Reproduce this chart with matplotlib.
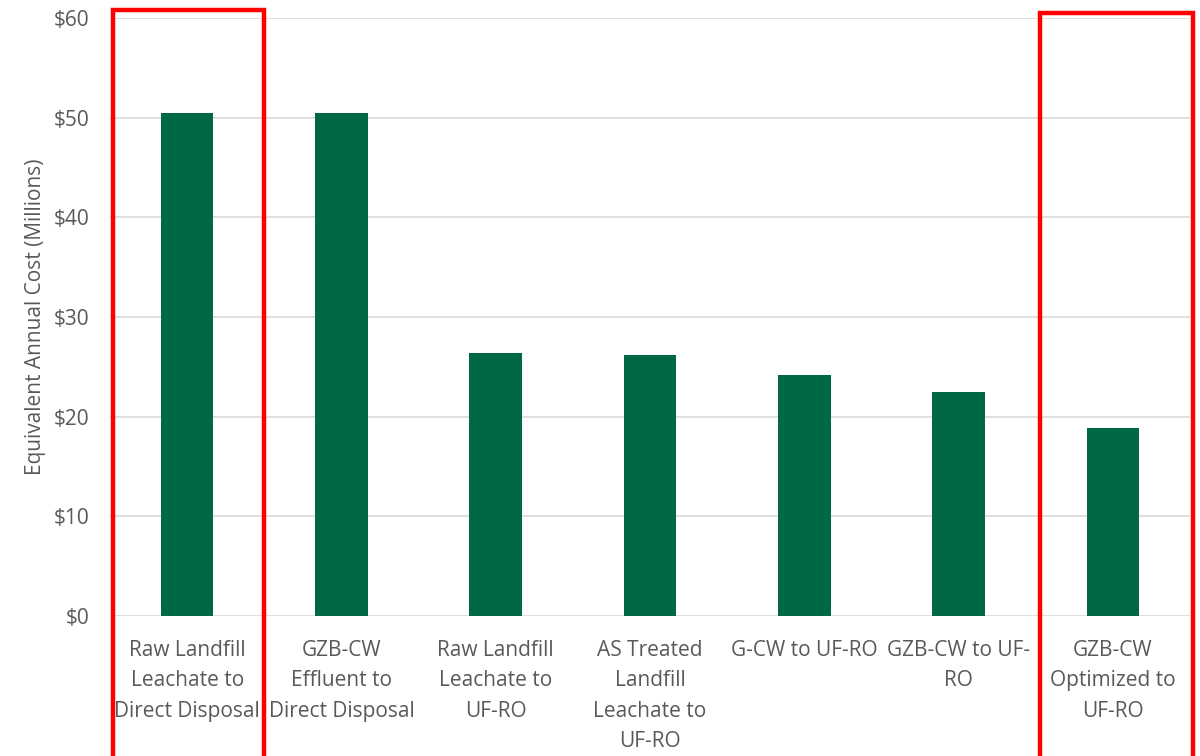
import matplotlib
matplotlib.use("Agg")
import matplotlib.pyplot as plt
from matplotlib.patches import Rectangle
from matplotlib.ticker import FuncFormatter

categories = [
    "Raw Landfill\nLeachate to\nDirect Disposal",
    "GZB-CW\nEffluent to\nDirect Disposal",
    "Raw Landfill\nLeachate to\nUF-RO",
    "AS Treated\nLandfill\nLeachate to\nUF-RO",
    "G-CW to UF-RO",
    "GZB-CW to UF-\nRO",
    "GZB-CW\nOptimized to\nUF-RO",
]
annual_cost = [50.5, 50.5, 26.4, 26.2, 24.2, 22.5, 18.9]
y_ticks = [0, 10, 20, 30, 40, 50, 60]

plt.rcParams["font.family"] = ["Open Sans", "DejaVu Sans"]
text_color = "#595959"
bar_color = "#006747"

fig = plt.figure(figsize=(12, 7.56), dpi=100)
ax = fig.add_axes([110 / 1200, 140 / 756, 1080 / 1200, 598 / 756])

x = list(range(len(categories)))
ax.bar(x, annual_cost, width=0.34, color=bar_color, zorder=3)

ax.set_xlim(-0.5, len(categories) - 0.5)
ax.set_ylim(0, 60)
ax.set_yticks(y_ticks)
ax.yaxis.set_major_formatter(FuncFormatter(lambda v, p: f"${v:.0f}"))
ax.grid(axis="y", color="#d9d9d9", linewidth=1.2, zorder=0)
ax.set_xticks(x)
ax.set_xticklabels(categories, fontsize=15, color=text_color, linespacing=1.6)
ax.tick_params(axis="both", length=0, colors=text_color, labelsize=15)
ax.tick_params(axis="x", pad=17)
ax.tick_params(axis="y", pad=15)
for s in ax.spines.values():
    s.set_visible(False)
ax.set_ylabel("Equivalent Annual Cost (Millions)", fontsize=15, color=text_color, labelpad=5)

# highlight boxes around the first and last scenario
for (x0, x1, top) in [(113, 264, 10), (1040, 1193, 13)]:
    fig.patches.append(Rectangle((x0 / 1200, -0.05), (x1 - x0) / 1200, 1.05 - top / 756,
                                 transform=fig.transFigure, fill=False,
                                 edgecolor="#ff0000", linewidth=3.2, zorder=10))

fig.savefig("out.png", dpi=100)
